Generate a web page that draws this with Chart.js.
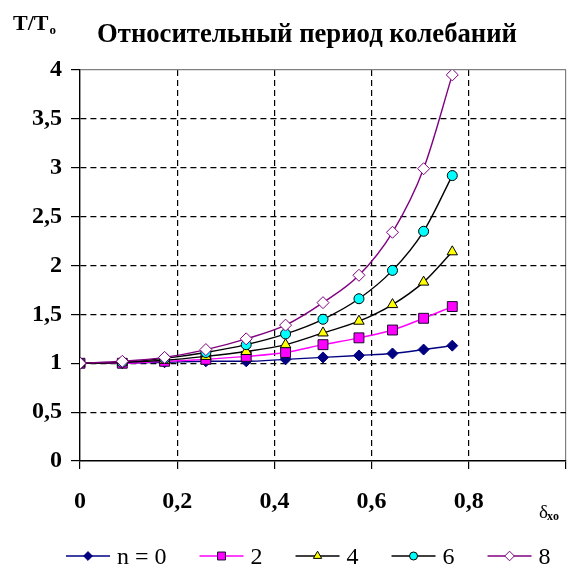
<!DOCTYPE html>
<html><head><meta charset="utf-8">
<script src="https://cdn.jsdelivr.net/npm/chart.js@4.4.1/dist/chart.umd.min.js"></script>
<style>html,body{margin:0;padding:0;background:#fff}canvas{display:block}</style>
</head><body>
<canvas id="c" width="569" height="572"></canvas>
<script>
// ---- data ----
const chartTitle = 'Относительный период колебаний';
const deltaValues = [0, 0.087, 0.174, 0.259, 0.342, 0.423, 0.5, 0.574, 0.643, 0.707, 0.766];
const seriesLabels = ['n = 0', '2', '4', '6', '8'];
const n0 = [1.00, 1.00, 1.01, 1.02, 1.02, 1.04, 1.06, 1.08, 1.10, 1.14, 1.18];
const n2 = [1.00, 1.00, 1.02, 1.04, 1.07, 1.11, 1.19, 1.26, 1.34, 1.46, 1.58];
const n4 = [1.00, 1.01, 1.03, 1.07, 1.12, 1.19, 1.31, 1.43, 1.60, 1.83, 2.14];
const n6 = [1.00, 1.01, 1.05, 1.11, 1.19, 1.30, 1.45, 1.66, 1.95, 2.35, 2.92];
const n8 = [1.00, 1.02, 1.06, 1.14, 1.25, 1.39, 1.62, 1.90, 2.34, 2.99, 3.95];
const xTickLabels = ['0', '0,2', '0,4', '0,6', '0,8', ''];
const yTickLabels = ['0', '0,5', '1', '1,5', '2', '2,5', '3', '3,5', '4'];

// ---- styles ----
const seriesValues = [n0, n2, n4, n6, n8];
const styles = [
  {line:'#000080', fill:'#000080', stroke:'#000080', shape:'rectRot', r:5.5},
  {line:'#ff00ff', fill:'#ff00ff', stroke:'#1a0a30', shape:'rect', r:7},
  {line:'#000000', fill:'#ffff00', stroke:'#000000', shape:'triangle', r:6},
  {line:'#000000', fill:'#00ffff', stroke:'#000000', shape:'circle', r:5},
  {line:'#800080', fill:'#ffffff', stroke:'#800080', shape:'rectRot', r:6}
];

const datasets = seriesValues.map((vals, i) => ({
  label: seriesLabels[i],
  data: vals.map((v, k) => ({x: deltaValues[k], y: v})),
  borderColor: styles[i].line,
  borderWidth: 1.4,
  pointStyle: styles[i].shape,
  pointRadius: styles[i].r,
  pointBackgroundColor: styles[i].fill,
  pointBorderColor: styles[i].stroke,
  pointBorderWidth: 1,
  cubicInterpolationMode: 'monotone',
  fill: false,
  order: 4 - i
}));

const near = (a, b) => Math.abs(a - b) < 1e-6;
const FONT = '"Liberation Serif", "Times New Roman", serif';

function drawMarker(ctx, st, x, y, s) {
  ctx.save();
  ctx.fillStyle = st.fill; ctx.strokeStyle = st.stroke; ctx.lineWidth = 1;
  ctx.beginPath();
  const r = st.r * s;
  if (st.shape === 'rectRot') {
    ctx.moveTo(x, y - r); ctx.lineTo(x + r, y); ctx.lineTo(x, y + r); ctx.lineTo(x - r, y); ctx.closePath();
  } else if (st.shape === 'rect') {
    const h = r * Math.SQRT1_2; ctx.rect(x - h, y - h, 2 * h, 2 * h);
  } else if (st.shape === 'triangle') {
    ctx.moveTo(x, y - r); ctx.lineTo(x + r * 0.866, y + r * 0.5); ctx.lineTo(x - r * 0.866, y + r * 0.5); ctx.closePath();
  } else {
    ctx.arc(x, y, r, 0, Math.PI * 2);
  }
  ctx.fill(); ctx.stroke();
  ctx.restore();
}

const overlay = {
  id: 'overlay',
  afterDraw(chart) {
    const ctx = chart.ctx;
    ctx.save();
    ctx.fillStyle = '#000';
    ctx.textBaseline = 'alphabetic';
    // title
    ctx.font = 'bold 26.7px ' + FONT;
    ctx.textAlign = 'center';
    ctx.fillText(chartTitle, 307, 42);
    // y axis caption T/To
    ctx.textAlign = 'left';
    ctx.font = 'bold 22px ' + FONT;
    ctx.fillText('T/T', 13, 30);
    const w = ctx.measureText('T/T').width;
    ctx.font = 'bold 13px ' + FONT;
    ctx.fillText('o', 13 + w + 1, 34);
    // x axis caption δxo
    const xr = chart.scales.x.getPixelForValue(1);
    ctx.font = '19px ' + FONT;
    ctx.fillText('δ', xr - 27, 518);
    const dw = ctx.measureText('δ').width;
    ctx.font = 'bold 12px ' + FONT;
    ctx.fillText('xo', xr - 27 + dw - 1, 520);
    // legend
    let lx = 66; const ly = 556;
    chart.data.datasets.forEach((ds, i) => {
      ctx.strokeStyle = ds.borderColor; ctx.lineWidth = 1.4;
      ctx.beginPath(); ctx.moveTo(lx, ly); ctx.lineTo(lx + 44, ly); ctx.stroke();
      drawMarker(ctx, styles[i], lx + 22, ly, 0.8);
      ctx.fillStyle = '#000';
      ctx.font = '24px ' + FONT;
      ctx.textAlign = 'left';
      ctx.fillText(ds.label, lx + 51, ly + 8);
      lx += 44 + 7 + ctx.measureText(ds.label).width + 33;
    });
    ctx.restore();
  }
};

new Chart(document.getElementById('c'), {
  type: 'line',
  data: { datasets },
  plugins: [overlay],
  options: {
    responsive: false,
    devicePixelRatio: 1,
    animation: false,
    layout: { autoPadding: false, padding: { top: 70, right: 3, left: 0, bottom: 0 } },
    plugins: { legend: { display: false }, tooltip: { enabled: false }, title: { display: false } },
    scales: {
      x: {
        type: 'linear', min: 0, max: 1,
        afterFit(s) { s.height = 111; s.paddingRight = 0; s.paddingLeft = 0; },
        ticks: {
          stepSize: 0.2, padding: 18, color: '#000',
          font: { family: FONT, size: 24, weight: 'bold' },
          maxRotation: 0, autoSkip: false,
          callback: (v, i) => xTickLabels[i] !== undefined ? xTickLabels[i] : ''
        },
        grid: {
          lineWidth: 1.2,
          tickLength: 8,
          tickColor: '#000',
          tickWidth: 1.2,
          color: c => (c.tick && near(c.tick.value, 0)) ? 'rgba(0,0,0,0)' : (c.tick && near(c.tick.value, 1) ? '#808080' : '#000')
        },
        border: {
          display: true, color: '#000', width: 1.4,
          dash: c => (c.tick && !near(c.tick.value, 1) && !near(c.tick.value, 0)) ? [6, 4] : []
        }
      },
      y: {
        min: 0, max: 4,
        afterFit(s) { s.width = 80; s.paddingTop = 0; s.paddingBottom = 0; },
        ticks: {
          stepSize: 0.5, padding: 9, color: '#000',
          font: { family: FONT, size: 24, weight: 'bold' },
          callback: (v, i) => yTickLabels[i] !== undefined ? yTickLabels[i] : ''
        },
        grid: {
          lineWidth: 1.2,
          tickLength: 9,
          tickColor: '#000',
          tickWidth: 1.2,
          color: c => (c.tick && near(c.tick.value, 0)) ? 'rgba(0,0,0,0)' : (c.tick && near(c.tick.value, 4) ? '#808080' : '#000')
        },
        border: {
          display: true, color: '#000', width: 1.4,
          dash: c => (c.tick && !near(c.tick.value, 4) && !near(c.tick.value, 0)) ? [6, 4] : []
        }
      }
    }
  }
});
</script>
</body></html>
